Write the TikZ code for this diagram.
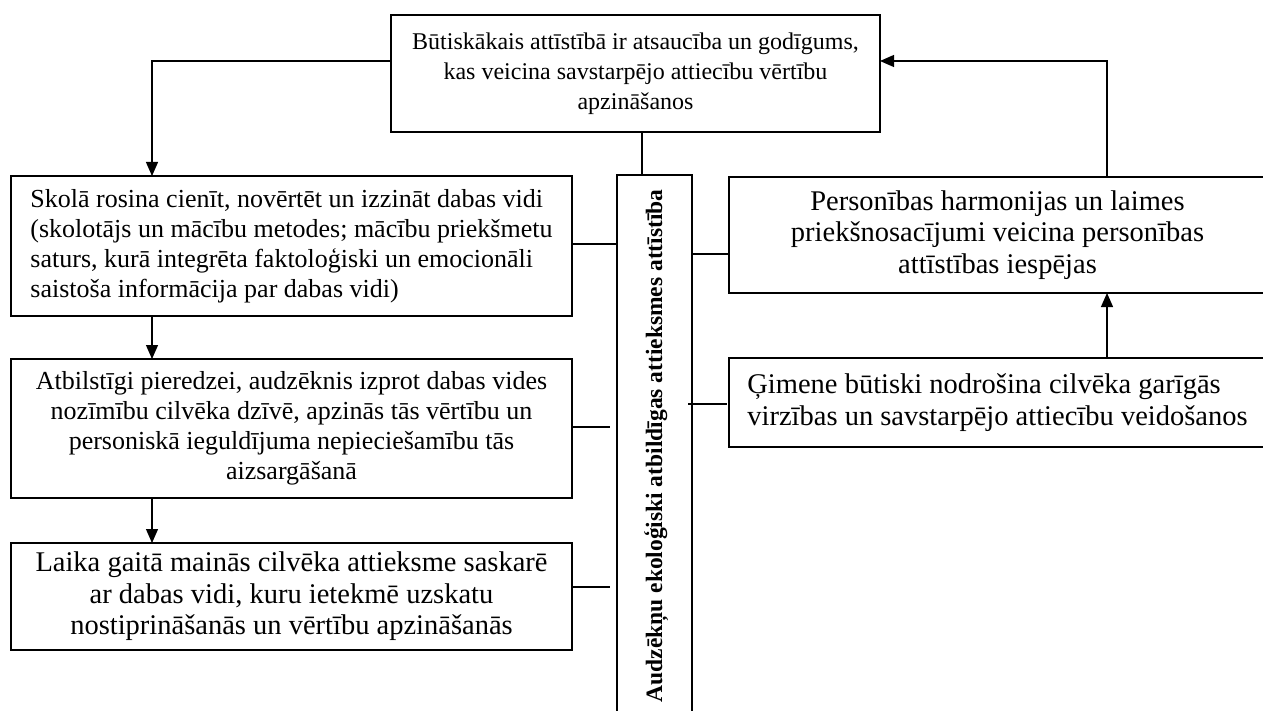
\documentclass[tikz,border=0pt]{standalone}
\usepackage{fontspec}
\setmainfont{Liberation Serif}
\usetikzlibrary{arrows.meta}
\begin{document}
\begin{tikzpicture}[x=1pt,y=-1pt,
  box/.style={draw, line width=1.3pt, inner sep=0pt, outer sep=0pt},
  link/.style={line width=1.2pt},
  arr/.style={link, -{Triangle[length=14pt,width=12pt]}},
  txttop/.style={font=\fontsize{24}{30}\selectfont},
  txtleft/.style={font=\fontsize{26}{30}\selectfont},
  txtbig/.style={font=\fontsize{28.5}{31.5}\selectfont}]
\useasboundingbox (0,0) rectangle (1263,711);
\clip (0,0) rectangle (1263,711);

% boxes
\node[box, txttop, minimum width=489pt, minimum height=117pt, align=center] (top) at (635.5,73.5)
  {Būtiskākais attīstībā ir atsaucība un godīgums,\\kas veicina savstarpējo attiecību vērtību\\apzināšanos};
\node[box, txtleft, minimum width=561pt, minimum height=140pt, align=left] (school) at (291.5,246)
  {Skolā rosina cienīt, novērtēt un izzināt dabas vidi\\(skolotājs un mācību metodes; mācību priekšmetu\\saturs, kurā integrēta faktoloģiski un emocionāli\\saistoša informācija par dabas vidi)};
\node[box, txtleft, minimum width=561pt, minimum height=139pt, align=center] (exper) at (291.5,428.5)
  {Atbilstīgi pieredzei, audzēknis izprot dabas vides\\nozīmību cilvēka dzīvē, apzinās tās vērtību un\\personiskā ieguldījuma nepieciešamību tās\\aizsargāšanā};
\node[box, txtbig, minimum width=561pt, minimum height=107pt, align=center] (time) at (291.5,596.5)
  {Laika gaitā mainās cilvēka attieksme saskarē\\ar dabas vidi, kuru ietekmē uzskatu\\nostiprināšanās un vērtību apzināšanās};
\node[box, minimum width=75pt, minimum height=555pt] (bar) at (654.5,452.5) {};
\node[rotate=90, anchor=west, font=\bfseries\fontsize{23.5}{28}\selectfont] (barlabel) at (656,706)
  {Audzēkņu ekoloģiski atbildīgas attieksmes attīstība};
\node[box, txtbig, minimum width=537pt, minimum height=116pt, align=center] (pers) at (997.5,235)
  {Personības harmonijas un laimes\\priekšnosacījumi veicina personības\\attīstības iespējas};
\node[box, txtbig, minimum width=537pt, minimum height=89pt, align=left] (fam) at (997.5,402.5)
  {Ģimene būtiski nodrošina cilvēka garīgās\\virzības un savstarpējo attiecību veidošanos};

% routing points
\coordinate (lk) at (152,61);
\coordinate (rk) at (1107,61);
\coordinate (tk) at (642,0);
\coordinate (c1) at (0,244);
\coordinate (c2) at (0,427);
\coordinate (c3) at (0,587);
\coordinate (c4) at (0,254);
\coordinate (e2) at (610,427);
\coordinate (e3) at (610,587);
\coordinate (f1) at (688,404);
\coordinate (f2) at (727,404);

% arrows
\draw[arr] (lk -| top.west) -- (lk) -- (lk |- school.north);
\draw[arr] (lk |- school.south) -- (lk |- exper.north);
\draw[arr] (lk |- exper.south) -- (lk |- time.north);
\draw[arr] (rk |- pers.north) -- (rk) -- (rk -| top.east);
\draw[arr] (rk |- fam.north) -- (rk |- pers.south);

% links to the central bar
\draw[link] (tk |- top.south) -- (tk |- bar.north);
\draw[link] (school.east |- c1) -- (bar.west |- c1);
\draw[link] (exper.east |- c2) -- (e2);
\draw[link] (time.east |- c3) -- (e3);
\draw[link] (bar.east |- c4) -- (pers.west |- c4);
\draw[link] (f1) -- (f2);
\end{tikzpicture}
\end{document}
